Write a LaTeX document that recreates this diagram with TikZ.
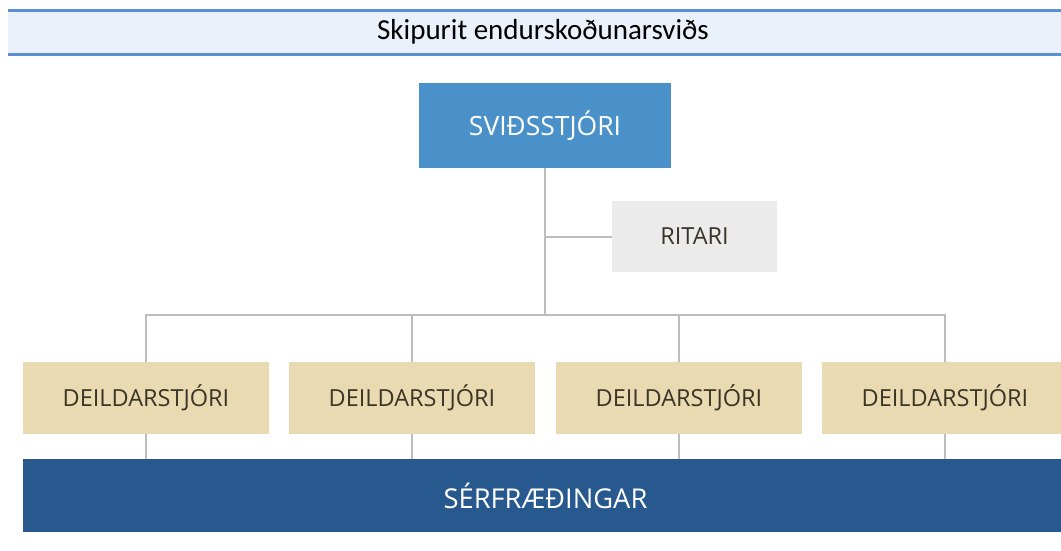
\documentclass[tikz,border=0pt]{standalone}
\usepackage{fontspec}
\setmainfont{Carlito}
\newfontfamily\boxfont{Open Sans}
\usetikzlibrary{positioning}
\definecolor{bandline}{HTML}{5A8FD2}
\definecolor{bandfill}{HTML}{EAF1FA}
\definecolor{bossblue}{HTML}{4B91C9}
\definecolor{ritgray}{HTML}{EBEBEB}
\definecolor{deildtan}{HTML}{E9DAB1}
\definecolor{sfblue}{HTML}{27598F}
\definecolor{linkgray}{HTML}{BDBDBD}
\definecolor{darktext}{HTML}{3B3528}
\begin{document}
\begin{tikzpicture}[
    x=1pt, y=-1pt,
    boss/.style={rectangle, fill=bossblue, minimum width=252pt, minimum height=85pt, text=white, font=\boxfont\fontsize{26.5}{30}\selectfont, inner sep=0pt},
    ritari/.style={rectangle, fill=ritgray, minimum width=165pt, minimum height=71pt, text=darktext, font=\boxfont\fontsize{23.5}{27}\selectfont, inner sep=0pt},
    deild/.style={rectangle, fill=deildtan, minimum width=246pt, minimum height=72pt, text=darktext, font=\boxfont\fontsize{23.5}{27}\selectfont, inner sep=0pt},
    sf/.style={rectangle, fill=sfblue, minimum width=1045pt, minimum height=73pt, text=white, font=\boxfont\fontsize{27.3}{31}\selectfont, inner sep=0pt},
    link/.style={draw=linkgray, line width=2pt}
]
\useasboundingbox (0,0) rectangle (1061,550);
\clip (0,0) rectangle (1061,550);

% Titill
\fill[bandfill] (8,10) rectangle (1070,55);
\fill[bandline] (8,9) rectangle (1070,12);
\fill[bandline] (8,53) rectangle (1070,56);
\node[font=\fontsize{29}{33}\selectfont] (title) at (543,32) {Skipurit endurskoðunarsviðs};

% Svidsstjori og ritari
\node[boss] (boss) at (545,125.5) {SVIÐSSTJÓRI};
\node[ritari] (ritari) at (694.5,236.5) {RITARI};

% Deildarstjorar
\node[deild] (d1) at (146,398) {DEILDARSTJÓRI};
\node[deild] (d2) at (412,398) {DEILDARSTJÓRI};
\node[deild] (d3) at (679,398) {DEILDARSTJÓRI};
\node[deild] (d4) at (945,398) {DEILDARSTJÓRI};

% Serfraedingar
\node[sf] (sf) at (545.5,495.5) {SÉRFRÆÐINGAR};

% Tengilinur
\coordinate (bus) at (545,315);
\draw[link] (boss.south) -- (bus);
\draw[link] (ritari.west) -- (ritari.west -| boss.south);
\draw[link] (d1.north) -- (d1.north |- bus) -- (d4.north |- bus) -- (d4.north);
\draw[link] (d2.north) -- (d2.north |- bus);
\draw[link] (d3.north) -- (d3.north |- bus);
\foreach \d in {d1,d2,d3,d4}
    \draw[link] (\d.south) -- (\d.south |- sf.north);

\end{tikzpicture}
\end{document}
